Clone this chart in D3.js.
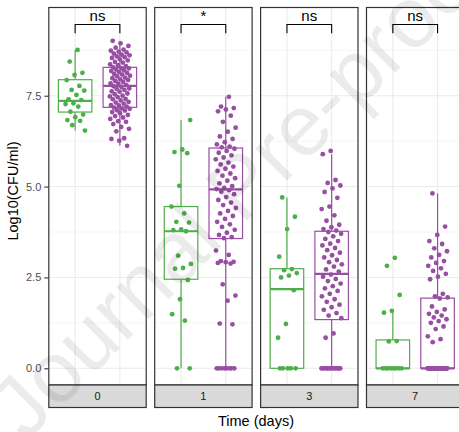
<!DOCTYPE html>
<html>
<head>
<meta charset="utf-8">
<script src="https://cdn.jsdelivr.net/npm/d3@7"></script>
<style>
  body { margin: 0; background: #fff; }
  svg text { font-family: "Liberation Sans", Arial, sans-serif; }
</style>
</head>
<body>
<div id="main"></div>
<script>
//////////
// DATA //
//////////

const days = ["0", "1", "3", "7"]
const sig_labels = ["ns", "*", "ns", "ns"]
const y_ticks = [0, 2.5, 5, 7.5]

// box stats: [lower whisker, q1, median, q3, upper whisker]
const green_box = [
    [6.54, 7.05, 7.36, 7.94, 8.76]
  , [0, 2.45, 3.77, 4.45, 6.83]
  , [0, 0, 2.18, 2.74, 4.70]
  , [0, 0, 0, 0.78, 1.56]
]
const purple_box = [
    [6.12, 7.18, 7.77, 8.28, 9.01]
  , [0, 3.57, 4.92, 6.06, 7.47]
  , [0, 1.34, 2.60, 3.77, 5.89]
  , [0, 0, 0, 1.93, 4.81]
]

// jittered points, log10 CFU/ml
const green_d0 = [8.76, 8.44, 8.13, 8.07, 7.93, 7.77, 7.66, 7.64, 7.52, 7.40, 7.38, 7.29, 7.27, 7.20, 7.06, 6.98, 6.91, 6.83, 6.81, 6.69, 6.54]
const purple_d0 = [
  6.12, 6.26, 6.31, 6.33, 6.52, 6.59, 6.64, 6.72, 6.78, 6.80, 6.86, 6.90, 6.94, 6.97, 7.02, 7.05, 7.09, 7.10, 7.14, 7.15, 7.17,
  7.20, 7.23, 7.24, 7.28, 7.31, 7.33, 7.37, 7.40, 7.41, 7.46, 7.48, 7.50, 7.54, 7.56, 7.61, 7.62, 7.66, 7.69, 7.70, 7.74, 7.76,
  7.79, 7.83, 7.84, 7.88, 7.90, 7.93, 7.95, 7.98, 8.00, 8.03, 8.05, 8.08, 8.10, 8.13, 8.15, 8.18, 8.20, 8.22, 8.25, 8.26, 8.28,
  8.31, 8.34, 8.36, 8.41, 8.43, 8.47, 8.50, 8.54, 8.56, 8.58, 8.61, 8.63, 8.66, 8.69, 8.71, 8.74, 8.77, 8.82, 8.87, 8.94, 9.01
]
const green_d1 = [6.83, 6.02, 5.95, 5.92, 5.02, 4.45, 4.26, 4.03, 4.01, 3.82, 3.80, 3.77, 3.10, 2.87, 2.76, 2.74, 2.43, 1.90, 1.49, 1.31, 0, 0]
const purple_d1 = [
  7.47, 7.20, 7.16, 7.12, 7.07, 6.95, 6.78, 6.62, 6.51, 6.38, 6.31, 6.22, 6.16, 6.10, 6.08,
  6.04, 5.98, 5.93, 5.86, 5.80, 5.75, 5.66, 5.61, 5.55, 5.49, 5.43, 5.36, 5.30, 5.23, 5.16, 5.09, 5.01, 4.96, 4.93,
  4.90, 4.86, 4.79, 4.71, 4.63, 4.56, 4.49, 4.41, 4.33, 4.26, 4.19, 4.11, 4.03, 3.96, 3.89, 3.81, 3.73, 3.67, 3.61, 3.58,
  3.24, 3.12, 2.95, 2.93, 2.92, 2.90, 2.88, 2.31, 2.00, 1.86, 1.23, 1.21, 0, 0, 0, 0, 0, 0, 0, 0
]
const green_d3 = [4.70, 4.17, 3.83, 3.07, 2.73, 2.70, 2.62, 2.55, 2.50, 2.15, 1.22, 0.84, 0, 0, 0, 0, 0]
const purple_d3 = [
  5.98, 5.89, 5.18, 5.10, 5.03, 4.95, 4.85, 4.69, 4.45, 4.38, 4.21, 4.06, 3.95, 3.88, 3.83, 3.79,
  3.75, 3.70, 3.63, 3.56, 3.50, 3.43, 3.38, 3.31, 3.25, 3.18, 3.11, 3.05, 2.98, 2.92, 2.86, 2.80, 2.72, 2.66,
  2.58, 2.52, 2.46, 2.40, 2.33, 2.26, 2.20, 2.13, 2.05, 1.98, 1.90, 1.83, 1.75, 1.68, 1.61, 1.52, 1.45, 1.38,
  0.96, 0.84, 0, 0, 0, 0, 0, 0, 0, 0, 0, 0, 0, 0, 0, 0
]
const green_d7 = [3.04, 2.82, 2.02, 1.58, 1.53, 0.75, 0.74, 0, 0, 0, 0, 0, 0, 0, 0]
const purple_d7 = [
  4.81, 3.90, 3.67, 3.50, 3.42, 3.30, 3.22, 3.12, 3.05, 2.95, 2.90, 2.82, 2.75, 2.68, 2.60, 2.52, 2.45,
  2.05, 1.98, 1.95, 1.92, 1.70, 1.62, 1.55, 1.50, 1.45, 1.40, 1.35, 1.30, 1.25, 1.15, 1.08, 0.88, 0.80, 0.72,
  0, 0, 0, 0, 0, 0, 0, 0, 0, 0, 0, 0, 0, 0, 0, 0, 0, 0, 0, 0, 0, 0, 0, 0, 0, 0, 0, 0, 0, 0, 0, 0, 0, 0, 0, 0
]

const green_points = [green_d0, green_d1, green_d3, green_d7]
const purple_points = [purple_d0, purple_d1, purple_d3, purple_d7]


///////////
// SETUP //
///////////

const width = 459
const height = 432

const GREEN = "#4daf4a"
const PURPLE = "#984ea3"
const JITTER = 0.23

const panel_top = 7
const panel_bottom = 385
const strip_h = 22.5

const facet = d3.scaleBand()
    .domain(days)
    .range([48.3, 464.4])
    .paddingInner(0.0708)

const pw = facet.bandwidth()

const x = d3.scaleLinear()
    .domain([0.4, 2.6])
    .range([0, pw])

const y = d3.scaleLinear()
    .domain([0, 7.5])
    .range([368.3, 95.7])

const svg = d3.select("#main").append("svg")
    .attr("width", width)
    .attr("height", height)


//////////
// DRAW //
//////////

days.forEach((d, i) => draw_panel(d, i))

// y axis
const y_axis = svg.append("g")
    .attr("transform", `translate(${facet(days[0])},0)`)
    .call(d3.axisLeft(y).tickValues(y_ticks).tickFormat(d3.format(".1f")).tickSize(4).tickPadding(3))
y_axis.select(".domain").remove()
y_axis.selectAll("line").attr("stroke", "#333").attr("stroke-width", 1.1)
y_axis.selectAll("text").attr("fill", "#4d4d4d").style("font-size", "11px")

// titles
svg.append("text")
    .attr("transform", `translate(18,191) rotate(-90)`)
    .attr("text-anchor", "middle")
    .style("font-size", "14.5px")
    .text("Log10(CFU/ml)")

svg.append("text")
    .attr("x", 256)
    .attr("y", 426)
    .attr("text-anchor", "middle")
    .style("font-size", "14.5px")
    .text("Time (days)")

// watermark
svg.append("text")
    .attr("transform", "translate(26,442) rotate(-45)")
    .attr("fill", "#000")
    .attr("fill-opacity", 0.08)
    .style("font-size", "86px")
    .text("Journal Pre-proof")


///////////////
// FUNCTIONS //
///////////////

function draw_panel(day, i){
    const g = svg.append("g")
        .attr("transform", `translate(${facet(day)},0)`)

    g.append("rect")
        .attr("y", panel_top)
        .attr("width", pw)
        .attr("height", panel_bottom - panel_top)
        .attr("fill", "#fff")

    // minor grid
    g.selectAll("line.minor")
        .data([1.25, 3.75, 6.25, 8.75])
        .enter().append("line")
            .attr("x1", 0).attr("x2", pw)
            .attr("y1", d => y(d)).attr("y2", d => y(d))
            .attr("stroke", "#f2f2f2")
            .attr("stroke-width", 0.8)

    // major grid
    g.selectAll("line.major")
        .data(y_ticks)
        .enter().append("line")
            .attr("x1", 0).attr("x2", pw)
            .attr("y1", d => y(d)).attr("y2", d => y(d))
            .attr("stroke", "#ebebeb")
            .attr("stroke-width", 1.1)

    g.selectAll("line.vgrid")
        .data([1, 2])
        .enter().append("line")
            .attr("x1", d => x(d)).attr("x2", d => x(d))
            .attr("y1", panel_top).attr("y2", panel_bottom)
            .attr("stroke", "#ebebeb")
            .attr("stroke-width", 1.1)

    draw_box(g, green_box[i], 1, GREEN)
    draw_box(g, purple_box[i], 2, PURPLE)

    draw_points(g, green_points[i], 1, GREEN, i * 7 + 1)
    draw_points(g, purple_points[i], 2, PURPLE, i * 11 + 3)

    // significance bracket
    const by = y(9.46)
    const bt = y(9.22)
    g.append("path")
        .attr("d", `M${x(1)},${bt}V${by}H${x(2)}V${bt}`)
        .attr("fill", "none")
        .attr("stroke", "#000")
        .attr("stroke-width", 1.1)

    g.append("text")
        .attr("x", x(1.5))
        .attr("y", 20.5)
        .attr("text-anchor", "middle")
        .style("font-size", "15px")
        .text(sig_labels[i])

    // border
    g.append("rect")
        .attr("x", 0.5)
        .attr("y", panel_top + 0.5)
        .attr("width", pw - 1)
        .attr("height", panel_bottom - panel_top - 0.5)
        .attr("fill", "none")
        .attr("stroke", "#333")
        .attr("stroke-width", 1.2)

    // strip
    g.append("rect")
        .attr("x", 0.5)
        .attr("y", panel_bottom)
        .attr("width", pw - 1)
        .attr("height", strip_h)
        .attr("fill", "#d9d9d9")
        .attr("stroke", "#333")
        .attr("stroke-width", 1.2)

    g.append("text")
        .attr("x", pw / 2)
        .attr("y", panel_bottom + strip_h / 2 + 4)
        .attr("text-anchor", "middle")
        .attr("fill", "#1a1a1a")
        .style("font-size", "11px")
        .text(day)
}

function draw_box(g, stats, pos, color){
    const [lo, q1, med, q3, hi] = stats
    const half = 0.375
    const cx = x(pos)

    g.append("line")
        .attr("x1", cx).attr("x2", cx)
        .attr("y1", y(q3)).attr("y2", y(hi))
        .attr("stroke", color).attr("stroke-width", 1.2)
    g.append("line")
        .attr("x1", cx).attr("x2", cx)
        .attr("y1", y(q1)).attr("y2", y(lo))
        .attr("stroke", color).attr("stroke-width", 1.2)

    g.append("rect")
        .attr("x", x(pos - half))
        .attr("y", y(q3))
        .attr("width", x(pos + half) - x(pos - half))
        .attr("height", Math.max(0, y(q1) - y(q3)))
        .attr("fill", "#fff")
        .attr("stroke", color)
        .attr("stroke-width", 1.2)

    g.append("line")
        .attr("x1", x(pos - half)).attr("x2", x(pos + half))
        .attr("y1", y(med)).attr("y2", y(med))
        .attr("stroke", color).attr("stroke-width", 2.2)
}

function draw_points(g, values, pos, color, seed){
    // deterministic jitter spread
    g.selectAll(null)
        .data(values)
        .enter().append("circle")
            .attr("cx", (d, k) => x(pos + (((k + seed) * 0.618034) % 1 - 0.5) * 2 * JITTER))
            .attr("cy", d => y(d))
            .attr("r", 2.4)
            .attr("fill", color)
}
</script>
</body>
</html>
